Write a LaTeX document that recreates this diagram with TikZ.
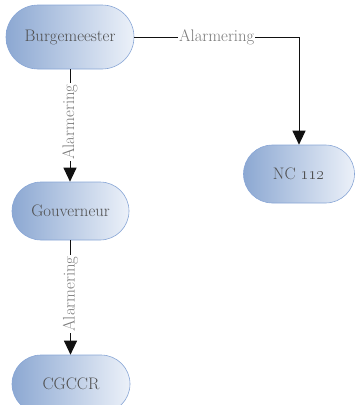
\documentclass[tikz,border=0pt]{standalone}
\usetikzlibrary{shapes.misc,arrows.meta}
\definecolor{nodeL}{HTML}{8CA8D2}
\definecolor{nodeR}{HTML}{ECF1F9}
\definecolor{nodeB}{HTML}{88A6D6}
\definecolor{txt}{HTML}{505050}
\definecolor{lbl}{HTML}{7A7A7A}
\definecolor{edgec}{HTML}{111111}
\tikzset{
  box/.style={rounded rectangle, draw=nodeB, line width=0.6pt, left color=nodeL, right color=nodeR,
    text=txt, font=\fontsize{16.7}{20}\selectfont, inner sep=0pt},
  link/.style={draw=edgec, line width=1pt, -{Triangle[width=13pt,length=14pt]}},
  lab/.style={fill=white, text=lbl, font=\fontsize{16.7}{20}\selectfont, inner sep=1pt}
}
\begin{document}
\begin{tikzpicture}[x=1pt,y=1pt]
\useasboundingbox (0,0) rectangle (355,-405);
\node[box, minimum width=128pt, minimum height=64pt] (B) at (70,-37) {Burgemeester};
\node[box, minimum width=117pt, minimum height=58pt] (G) at (70.5,-211) {Gouverneur};
\node[box, minimum width=111pt, minimum height=58pt] (N) at (299,-174) {NC \oldstylenums{112}};
\node[box, minimum width=118pt, minimum height=58pt] (C) at (71,-384) {CGCCR};
\draw[link] (B.east) -| node[lab, pos=0.25] {Alarmering} (N.north);
\draw[link] (B.south) -- node[lab, rotate=90, pos=0.47] {Alarmering} (B.south |- G.north);
\draw[link] (G.south) -- node[lab, rotate=90, pos=0.47] {Alarmering} (G.south |- C.north);
\end{tikzpicture}
\end{document}
